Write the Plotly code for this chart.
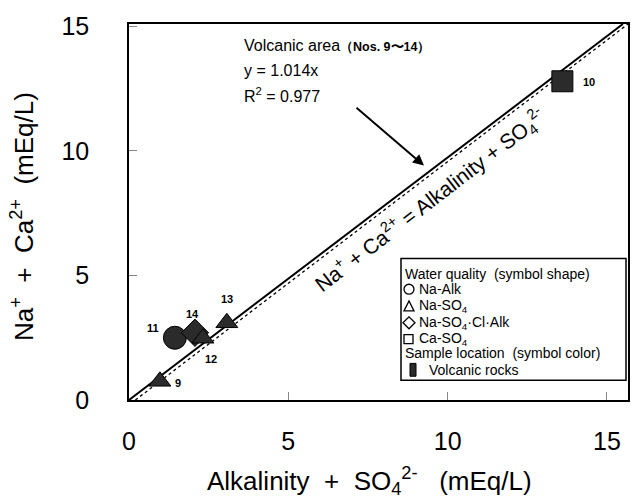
import plotly.graph_objects as go

# ---------------- data ----------------
sample_ids = ["11", "14", "12", "13", "9", "10"]
alk_so4 = [1.44, 2.07, 2.32, 3.07, 0.97, 13.6]      # Alkalinity + SO4 (mEq/L)
na_ca = [2.50, 2.70, 2.48, 3.10, 0.75, 12.8]        # Na + Ca (mEq/L)
water_type = ["Na-Alk", "Na-SO4·Cl·Alk", "Na-SO4", "Na-SO4", "Na-SO4", "Ca-SO4"]

ref_line_x = [0, 15.5]
ref_line_y = [0, 15.1]
fit_line_x = [0.2, 15.66]
fit_line_y = [0, 15.1]

x_ticks = [0, 5, 10, 15]
y_ticks = [0, 5, 10, 15]

# ---------------- layout helpers ----------------
W, H = 643, 503
L, R, T, B = 129, 628, 20, 400


def px(xp):
    return (xp - L) / (R - L)


def py(yp):
    return (B - yp) / (B - T)


symbol_map = {"Na-Alk": "circle", "Na-SO4": "triangle-up",
              "Na-SO4·Cl·Alk": "diamond", "Ca-SO4": "square"}
size_map = {"Na-Alk": 23, "Na-SO4": 19, "Na-SO4·Cl·Alk": 21, "Ca-SO4": 21}

fig = go.Figure()
fig.add_trace(go.Scatter(x=fit_line_x, y=fit_line_y, mode="lines",
                         line=dict(color="black", width=1.3, dash="dot"),
                         hoverinfo="skip"))
fig.add_trace(go.Scatter(x=ref_line_x, y=ref_line_y, mode="lines",
                         line=dict(color="black", width=2), hoverinfo="skip"))
fig.add_trace(go.Scatter(
    x=alk_so4, y=na_ca, mode="markers",
    marker=dict(symbol=[symbol_map[t] for t in water_type],
                size=[size_map[t] for t in water_type],
                color="#2b2b2b", opacity=1, line=dict(color="black", width=1)),
    text=sample_ids))

label_shift = {"11": (-22, 10), "14": (-2, 19), "12": (8, -21),
               "13": (0, 24), "9": (18, -2), "10": (27, -1)}
annotations = []
for sid, xv, yv in zip(sample_ids, alk_so4, na_ca):
    dx, dy = label_shift[sid]
    annotations.append(dict(x=xv, y=yv, xref="x", yref="y", text="<b>%s</b>" % sid,
                            showarrow=False, xshift=dx, yshift=dy,
                            font=dict(size=11, color="black")))

font = "Liberation Sans, Arial, sans-serif"
nb = "&nbsp;"
# text block
annotations += [
    dict(x=px(242), y=py(42), xref="paper", yref="paper", xanchor="left", yanchor="middle",
         text="Volcanic area<span style='font-size:12.5px'><b>（Nos. 9〜14）</b></span>",
         showarrow=False, font=dict(size=16)),
    dict(x=px(242), y=py(67), xref="paper", yref="paper", xanchor="left", yanchor="middle",
         text="y = 1.014x", showarrow=False, font=dict(size=16)),
    dict(x=px(242), y=py(92), xref="paper", yref="paper", xanchor="left", yanchor="middle",
         text="R<sup>2</sup> = 0.977", showarrow=False, font=dict(size=16)),
    dict(x=px(424), y=py(163), xref="paper", yref="paper", ax=-69, ay=-59,
         showarrow=True, arrowhead=2, arrowsize=1.1, arrowwidth=2, arrowcolor="black", text=""),
    dict(x=px(430), y=py(198), xref="paper", yref="paper", textangle=-37.6,
         xanchor="center", yanchor="middle",
         text="Na<sup>+</sup> + Ca<sup>2+</sup> = Alkalinity + SO<sub>4</sub><sup>2-</sup>",
         showarrow=False, font=dict(size=21)),
]

# legend box text
leg_lines = [
    (403, 273, "Water quality" + nb * 2 + "(symbol shape)"),
    (417, 288, "Na-Alk"),
    (417, 305, "Na-SO<sub>4</sub>"),
    (417, 322, "Na-SO<sub>4</sub>·Cl·Alk"),
    (417, 338, "Ca-SO<sub>4</sub>"),
    (403, 353, "Sample location" + nb * 2 + "(symbol color)"),
    (427, 370, "Volcanic rocks"),
]
for xp, yp, t in leg_lines:
    annotations.append(dict(x=px(xp), y=py(yp), xref="paper", yref="paper",
                            xanchor="left", yanchor="middle", text=t,
                            showarrow=False, font=dict(size=14)))

# axis titles
annotations += [
    dict(x=px(369), y=py(482), xref="paper", yref="paper", xanchor="center", yanchor="middle",
         text="Alkalinity" + nb * 2 + "+" + nb * 2 + "SO<sub>4</sub><sup>2-</sup>" + nb * 3 + "(mEq/L)",
         showarrow=False, font=dict(size=26)),
    dict(x=px(23), y=py(215), xref="paper", yref="paper", xanchor="center", yanchor="middle",
         textangle=-90,
         text="Na<sup>+</sup>" + nb * 2 + "+" + nb * 2 + "Ca<sup>2+</sup>" + nb * 2 + "(mEq/L)",
         showarrow=False, font=dict(size=26)),
]

lw = dict(color="black", width=1.3)
shapes = [
    dict(type="rect", xref="paper", yref="paper",
         x0=px(401), x1=px(626), y0=py(380), y1=py(257),
         line=dict(color="black", width=1.5), fillcolor="white", layer="above"),
    # legend symbols (hollow shapes)
    dict(type="circle", xref="paper", yref="paper", x0=px(404), x1=px(414),
         y0=py(293), y1=py(283), line=lw, layer="above"),
    dict(type="path", xref="paper", yref="paper", layer="above", line=lw,
         path="M %f %f L %f %f L %f %f Z" % (px(404), py(310), px(414), py(310), px(409), py(300))),
    dict(type="path", xref="paper", yref="paper", layer="above", line=lw,
         path="M %f %f L %f %f L %f %f L %f %f Z" % (px(403), py(322), px(409), py(316),
                                                      px(415), py(322), px(409), py(328))),
    dict(type="rect", xref="paper", yref="paper", x0=px(404), x1=px(413),
         y0=py(343), y1=py(334), line=lw, layer="above"),
    dict(type="rect", xref="paper", yref="paper", x0=px(410), x1=px(416),
         y0=py(376), y1=py(363), line=dict(color="black", width=1),
         fillcolor="#2b2b2b", layer="above"),
]

fig.update_layout(
    width=W, height=H, margin=dict(l=L, r=W - R, t=T, b=H - B),
    paper_bgcolor="white", plot_bgcolor="white", showlegend=False,
    font=dict(family=font, color="black"),
    annotations=annotations, shapes=shapes,
    xaxis=dict(range=[0, 15.66], tickvals=x_ticks, ticks="inside", ticklen=8,
               tickcolor="#888888", showgrid=False, zeroline=False,
               showline=True, mirror=True, linecolor="black", linewidth=1.5,
               tickfont=dict(size=25), ticklabelstandoff=18),
    yaxis=dict(range=[0, 15.1], tickvals=y_ticks, ticks="inside", ticklen=8,
               tickcolor="#888888", showgrid=False, zeroline=False,
               showline=True, mirror=True, linecolor="black", linewidth=1.5,
               tickfont=dict(size=25), ticklabelstandoff=33),
)

fig.write_html("out.html")
